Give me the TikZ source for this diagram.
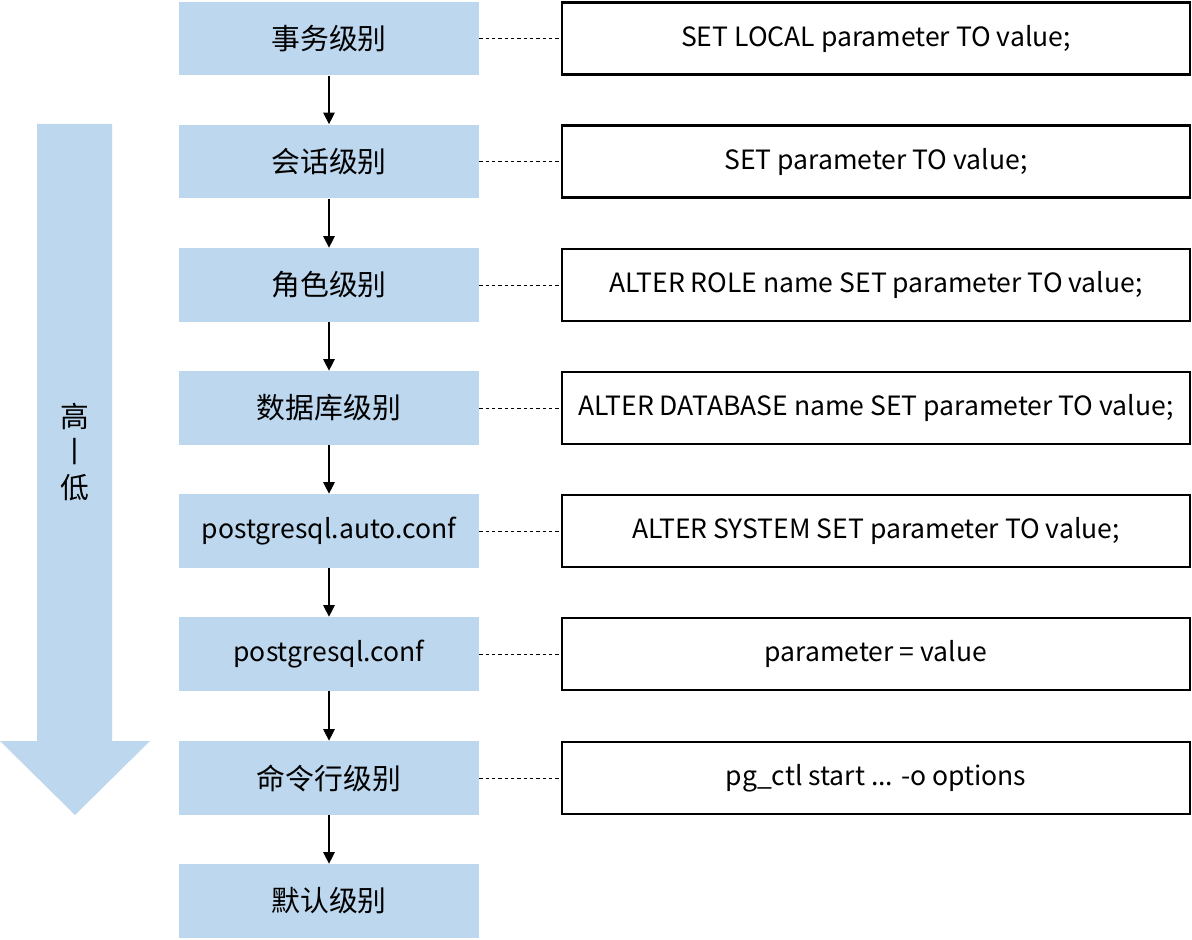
\documentclass[tikz,border=0pt]{standalone}
\usepackage{fontspec}
\setmainfont{Noto Sans CJK SC}
\usetikzlibrary{arrows.meta}
\definecolor{lvlblue}{HTML}{BDD7EE}
\newcommand{\cjksize}{\fontsize{16.4}{20}\selectfont}
\tikzset{
  lvlbox/.style={fill=lvlblue, minimum width=6cm, minimum height=1.48cm, inner sep=0pt, font=\fontsize{15.1}{18}\selectfont},
  cmdbox/.style={draw=black, line width=1.3pt, minimum width=12.56cm, minimum height=1.44cm, inner sep=0pt, font=\fontsize{15.1}{18}\selectfont},
  lvlarrow/.style={-{Triangle[length=6.5pt,width=6.5pt]}, line width=0.6pt},
  lvllink/.style={dash pattern=on 2pt off 1.6pt, line width=0.5pt}
}
\begin{document}
\begin{tikzpicture}[x=0.02cm, y=-0.02cm]
  \useasboundingbox (0,0) rectangle (1192,939);
  % big priority arrow on the left
  \fill[lvlblue] (37,124) -- (112,124) -- (112,741) -- (150,741) -- (75,815) -- (0,741) -- (37,741) -- cycle;
  \node[align=center, font=\fontsize{16.4}{20}\selectfont] (order) at (75,452) {高\\丨\\低};
  % level boxes
  \node[lvlbox] (lvl0) at (329,38.5) {\cjksize 事务级别};
  \node[lvlbox] (lvl1) at (329,161.5) {\cjksize 会话级别};
  \node[lvlbox] (lvl2) at (329,285) {\cjksize 角色级别};
  \node[lvlbox] (lvl3) at (329,408) {\cjksize 数据库级别};
  \node[lvlbox] (lvl4) at (329,531) {postgresql.auto.conf};
  \node[lvlbox] (lvl5) at (329,654) {postgresql.conf};
  \node[lvlbox] (lvl6) at (329,778) {\cjksize 命令行级别};
  \node[lvlbox] (lvl7) at (329,901) {\cjksize 默认级别};
  % command boxes
  \node[cmdbox] (cmd0) at (876,38.5) {SET LOCAL parameter TO value;};
  \node[cmdbox] (cmd1) at (876,161.5) {SET parameter TO value;};
  \node[cmdbox] (cmd2) at (876,285) {ALTER ROLE name SET parameter TO value;};
  \node[cmdbox] (cmd3) at (876,408) {ALTER DATABASE name SET parameter TO value;};
  \node[cmdbox] (cmd4) at (876,531) {ALTER SYSTEM SET parameter TO value;};
  \node[cmdbox] (cmd5) at (876,654) {parameter = value};
  \node[cmdbox] (cmd6) at (876,778) {pg\_ctl start ... -o options};
  % arrows between levels
  \foreach \i [evaluate=\i as \j using int(\i+1)] in {0,...,6}
    \draw[lvlarrow] (lvl\i) -- (lvl\j);
  % dashed links to commands
  \foreach \i in {0,...,6}
    \draw[lvllink] (lvl\i) -- (cmd\i);
\end{tikzpicture}
\end{document}
